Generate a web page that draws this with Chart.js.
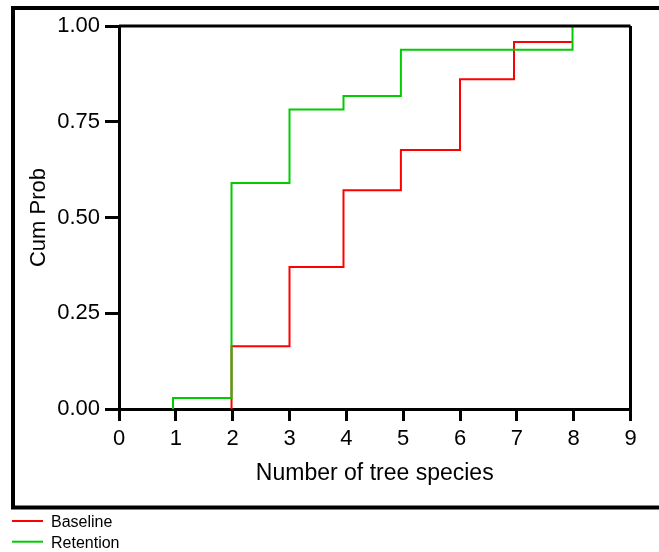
<!DOCTYPE html>
<html><head><meta charset="utf-8">
<script src="https://cdn.jsdelivr.net/npm/chart.js@4"></script>
<style>html,body{margin:0;padding:0;background:#fff;} canvas{display:block}</style>
</head><body>
<canvas id="c" width="659" height="552"></canvas>
<script>
const seriesNames = ['Baseline', 'Retention'];
const seriesColors = ['#ff0000', '#00cc00'];
const baselineX = [1.98, 1.98, 3, 3.95, 4.96, 6, 6.95, 7.98];
const baselineY = [0, 0.164, 0.371, 0.571, 0.676, 0.861, 0.958, 0.958];
const retentionX = [0.95, 0.95, 1.98, 3, 3.95, 4.96, 7.98];
const retentionY = [0, 0.029, 0.59, 0.782, 0.817, 0.938, 1.0];
const xTickValues = [0, 1, 2, 3, 4, 5, 6, 7, 8, 9];
const yTickValues = [0, 0.25, 0.5, 0.75, 1.0];
const xTitle = 'Number of tree species';
const yTitle = 'Cum Prob';

const FONT = "'Liberation Sans', Arial, sans-serif";
const pts = (xs, ys) => xs.map((x, i) => ({x: x, y: ys[i]}));

const framePlugin = {
  id: 'frame',
  afterDraw(chart) {
    const ctx = chart.ctx, a = chart.chartArea;
    ctx.save();
    ctx.strokeStyle = '#000';
    // plot frame top & right
    ctx.lineWidth = 3;
    ctx.beginPath();
    ctx.moveTo(a.left, a.top); ctx.lineTo(a.right, a.top);
    ctx.moveTo(a.right, a.top); ctx.lineTo(a.right, a.bottom);
    ctx.stroke();
    // outer box
    ctx.lineWidth = 4;
    ctx.beginPath();
    ctx.moveTo(659, 8); ctx.lineTo(13, 8); ctx.lineTo(13, 507.5); ctx.lineTo(659, 507.5);
    ctx.stroke();
    // legend
    ctx.font = '16px ' + FONT;
    ctx.textBaseline = 'middle';
    ctx.textAlign = 'left';
    seriesNames.forEach((name, i) => {
      const y = 521 + i * 20.7;
      ctx.strokeStyle = seriesColors[i];
      ctx.lineWidth = 2;
      ctx.beginPath(); ctx.moveTo(12, y); ctx.lineTo(43, y); ctx.stroke();
      ctx.fillStyle = '#000';
      ctx.fillText(name, 51, y + 2);
    });
    ctx.restore();
  }
};

new Chart(document.getElementById('c'), {
  type: 'line',
  data: {
    datasets: [
      { label: seriesNames[0], data: pts(baselineX, baselineY), borderColor: seriesColors[0],
        borderWidth: 2, pointRadius: 0, stepped: true, fill: false, order: 1 },
      { label: seriesNames[1], data: pts(retentionX, retentionY), borderColor: seriesColors[1],
        borderWidth: 2, pointRadius: 0, stepped: true, fill: false, order: 0 }
    ]
  },
  options: {
    responsive: false,
    animation: false,
    parsing: false,
    layout: { padding: { left: 0, top: 26, right: 28.5, bottom: 0 } },
    plugins: { legend: { display: false }, tooltip: { enabled: false } },
    scales: {
      x: {
        type: 'linear', min: 0, max: 9,
        afterFit(s) { s.height = 143; },
        afterBuildTicks(s) { s.ticks = xTickValues.map(v => ({value: v})); },
        ticks: { color: '#000', font: { family: FONT, size: 22 }, padding: 5, maxRotation: 0,
                 callback: v => String(v) },
        grid: { drawOnChartArea: false, drawTicks: true, tickLength: 12, color: '#000', lineWidth: 3 },
        border: { display: true, color: '#000', width: 3 },
        title: { display: true, text: xTitle, color: '#000', font: { family: FONT, size: 23 },
                 padding: { top: 0, bottom: 64.7 } }
      },
      y: {
        type: 'linear', min: 0, max: 1,
        afterFit(s) { s.width = 119; },
        afterBuildTicks(s) { s.ticks = yTickValues.map(v => ({value: v})); },
        ticks: { color: '#000', font: { family: FONT, size: 22 }, padding: 5,
                 callback: v => Number(v).toFixed(2) },
        grid: { drawOnChartArea: false, drawTicks: true, tickLength: 14, color: '#000', lineWidth: 3 },
        border: { display: true, color: '#000', width: 3 },
        title: { display: true, text: yTitle, color: '#000', font: { family: FONT, size: 22 },
                 padding: { top: 25.8, bottom: 0 } }
      }
    }
  },
  plugins: [framePlugin]
});
</script>
</body></html>
